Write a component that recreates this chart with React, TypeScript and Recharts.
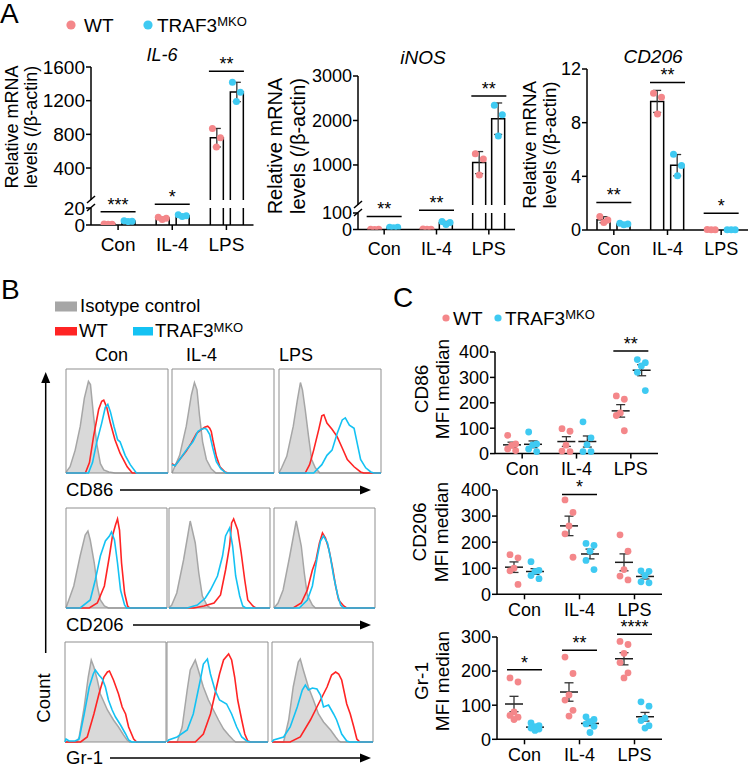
import React from 'react';
import {
  ComposedChart, Bar, Scatter, Line, Area, XAxis, YAxis, ErrorBar, ReferenceDot, ReferenceArea,
} from 'recharts';

const FONT = '"Liberation Sans", Arial, Helvetica, sans-serif';
const WT_DOT = '#f4878a';
const KO_DOT = '#3fcaf2';
const WT_LINE = '#ff2424';
const KO_LINE = '#14c2f3';
const ISO_FILL = '#d9d9d9';
const ISO_LINE = '#a6a6a6';

const groups = ['Con', 'IL-4', 'LPS'];

// ---------- Panel A : relative mRNA, 3 replicates per bar ----------
const il6WT = [[1.1, 1.0, 0.9], [9, 8, 6.5], [870, 760, 650]];
const il6KO = [[5, 4.5, 4], [12, 11, 10], [1420, 1300, 1190]];
const il6Stars = ['***', '*', '**'];
const il6StarsLow = [15.5, 24.5, null];
const il6StarsHigh = [null, null, 1550];
const il6TicksHigh = [400, 800, 1200, 1600];
const il6TicksLow = [0, 20];

const inosWT = [[1.5, 1, 0.5], [2.5, 2, 1.5], [1250, 1135, 775]];
const inosKO = [[14, 13, 10], [48, 42, 31], [2340, 2130, 1650]];
const inosStars = ['**', '**', '**'];
const inosStarsLow = [79, 116, null];
const inosStarsHigh = [null, null, 2550];
const inosTicksHigh = [1000, 2000, 3000];
const inosTicksLow = [0, 100];

const cd206WT = [[1.0, 0.75, 0.55], [10.2, 9.9, 8.65], [0.03, 0.02, 0.02]];
const cd206KO = [[0.5, 0.45, 0.4], [5.64, 4.8, 4.05], [0.02, 0.01, 0.01]];
const cd206Stars = ['**', '**', '*'];
const cd206StarsY = [2.05, 11, 1.25];
const cd206Ticks = [0, 4, 8, 12];

// ---------- Panel C : MFI median, individual mice ----------
const cd86MfiWT = [[72, 38, 32, 18, 12], [98, 88, 33, 10, 8], [227, 214, 160, 150, 90]];
const cd86MfiKO = [[85, 38, 34, 18, 8], [125, 62, 35, 8, 8], [370, 358, 345, 320, 248]];
const cd86MfiStars = ['', '', '**'];
const cd86MfiStarsY = [null, null, 404];

const cd206MfiWT = [[152, 140, 100, 90, 38], [362, 314, 262, 232, 142], [228, 165, 95, 70, 55]];
const cd206MfiKO = [[125, 92, 88, 72, 60], [195, 188, 165, 130, 95], [90, 88, 72, 48, 44]];
const cd206MfiStars = ['', '*', ''];
const cd206MfiStarsY = [null, 383, null];

const gr1MfiWT = [[180, 168, 80, 70, 65, 58], [241, 193, 130, 115, 85, 68], [287, 278, 252, 225, 195, 180]];
const gr1MfiKO = [[48, 40, 37, 33, 30, 26], [66, 58, 52, 45, 38, 20], [110, 97, 62, 55, 40, 33]];
const gr1MfiStars = ['*', '**', '****'];
const gr1MfiStarsY = [204, 261, 308];

const mfiTicks400 = [0, 100, 200, 300, 400];
const mfiTicks300 = [0, 100, 200, 300];

// ---------- Panel B : flow histograms [fluorescence %, count %] ----------
const h86ConIso = [[0, 0], [1, 2], [4, 6], [9, 22], [14, 45], [18, 72], [22, 88], [24, 85], [27, 55], [30, 29], [33.7, 9], [37, 3], [42, 1], [48, 0], [100, 0]];
const h86ConWT = [[0, 0], [19, 0], [23, 10], [27, 35], [32, 61], [35, 69], [37, 70], [40, 63], [43.5, 48], [48, 32], [53, 19], [60, 6], [65, 0], [100, 0]];
const h86ConKO = [[0, 0], [22, 0], [26, 10], [30, 29], [35, 48], [38.5, 63], [41, 66], [43.5, 59], [47, 45], [50.6, 32], [53, 30], [58, 17], [63, 8], [69, 0], [100, 0]];
const h86IL4Iso = [[0, 0], [2.6, 6], [7.5, 17], [14, 45], [19, 75], [22, 87], [24.5, 80], [27, 55], [30, 30], [33.7, 13], [38.5, 4], [43, 0], [100, 0]];
const h86IL4WT = [[0, 9], [3, 7], [7.5, 13], [14, 21], [19, 29], [24, 38], [29, 42], [32, 44], [35, 45], [37, 43], [38.5, 40], [40, 32], [43.5, 16], [47, 6], [52, 1], [55, 0], [100, 0]];
const h86IL4KO = [[0, 8], [3, 7], [7.5, 13], [14, 22], [20.5, 30], [25.5, 40], [29, 42], [32, 43], [34, 42], [37, 37], [40, 24], [43.5, 11], [48, 4], [53, 0], [100, 0]];
const h86LPSIso = [[0, 0], [2.6, 5], [7.6, 16], [14, 45], [18, 70], [21, 87], [23, 80], [25.7, 61], [29, 35], [32, 13], [35.6, 5], [40, 0], [100, 0]];
const h86LPSWT = [[0, 0], [25.7, 0], [30, 8], [34, 22], [39, 42], [42, 55], [44, 56], [47, 48], [52, 42], [57, 35], [62, 24], [67, 13], [73.6, 6], [80, 1], [83, 0], [100, 0]];
const h86LPSKO = [[0, 0], [34, 0], [42, 8], [47, 17], [52, 22], [57, 38], [62, 51], [65, 53], [69, 46], [73.6, 43], [77, 27], [80, 13], [85, 5], [90, 1], [93, 0], [100, 0]];

const h206ConIso = [[0, 0], [1, 3], [7.7, 22], [14, 52], [19, 73], [21.7, 77], [24, 68], [28, 45], [31, 22], [34, 8], [38, 2], [42, 0], [100, 0]];
const h206ConWT = [[0, 0], [23, 0], [31, 5], [38, 22], [43, 52], [46, 72], [49, 83], [51, 89], [53, 78], [55, 45], [58, 15], [61, 2], [63, 0], [100, 0]];
const h206ConKO = [[0, 0], [14, 0], [24, 8], [29, 28], [34, 52], [39, 67], [43, 72], [45, 76], [48, 68], [51, 45], [54, 18], [58, 3], [60, 0], [100, 0]];
const h206IL4Iso = [[0, 0], [2.7, 3], [7.7, 15], [14.4, 48], [19, 75], [21, 87], [26, 65], [29.5, 35], [33, 12], [38, 2], [41, 0], [100, 0]];
const h206IL4WT = [[0, 0], [24.5, 0], [34.6, 2], [44.6, 5], [51, 13], [56, 38], [60, 62], [62, 85], [64, 89], [68, 78], [71.5, 55], [75, 28], [78, 8], [83, 2], [86, 0], [100, 0]];
const h206IL4KO = [[0, 0], [18, 0], [28, 3], [36, 10], [41, 18], [48, 32], [53, 52], [56, 72], [60, 80], [63, 62], [66, 32], [70, 12], [73, 2], [76, 0], [100, 0]];
const h206LPSIso = [[0, 0], [4, 5], [9, 18], [15.6, 52], [22, 87], [27, 62], [30, 35], [33, 13], [38, 3], [41, 0], [100, 0]];
const h206LPSWT = [[0, 0], [19, 0], [27, 5], [33, 18], [38, 38], [41.6, 48], [45, 65], [48, 75], [51, 70], [54.5, 58], [58, 40], [61, 22], [64, 8], [69, 2], [72, 0], [100, 0]];
const h206LPSKO = [[0, 0], [25, 0], [33, 8], [38, 22], [43, 52], [46, 67], [49, 72], [53, 65], [56, 50], [59, 32], [63, 13], [66, 3], [69, 0], [100, 0]];

const hGrConIso = [[0, 0], [12, 0], [14, 5], [19, 35], [23, 65], [26, 82], [28.6, 75], [32, 62], [35, 48], [42, 32], [48, 22], [53, 15], [58, 7], [61.5, 2], [64, 0], [100, 0]];
const hGrConWT = [[0, 0], [15.5, 0], [22, 5], [28.6, 28], [33.6, 48], [38.5, 65], [42, 70], [44, 71], [48, 62], [53, 48], [56.6, 35], [60, 28], [63, 15], [68, 3], [71, 0], [100, 0]];
const hGrConKO = [[0, 0], [1, 3], [4, 1], [10, 1], [14, 3], [19, 28], [24, 55], [28, 68], [30, 72], [33.6, 67], [37, 63], [40, 55], [43, 42], [46.7, 32], [50, 25], [55, 17], [60, 8], [63, 2], [66, 0], [100, 0]];
const hGrIL4Iso = [[0, 0], [10, 0], [15, 15], [20, 52], [23, 72], [28, 82], [31, 72], [36, 55], [41, 42], [46, 32], [51, 22], [56, 13], [61, 7], [65.6, 2], [68, 0], [100, 0]];
const hGrIL4WT = [[0, 0], [28, 0], [36, 8], [43, 28], [47.5, 48], [52, 68], [56, 82], [61, 88], [64, 82], [67, 65], [70, 42], [74, 22], [77, 8], [80, 1], [83, 0], [100, 0]];
const hGrIL4KO = [[0, 0], [1.6, 2], [10, 5], [20, 12], [26, 28], [33, 62], [36, 78], [40, 83], [43, 68], [47.5, 52], [52, 42], [59, 38], [64, 28], [69, 15], [74, 5], [79, 1], [82, 0], [100, 0]];
const hGrLPSIso = [[0, 0], [11.5, 0], [16.5, 22], [21, 55], [26, 80], [28, 83], [31, 72], [36, 55], [41, 42], [46, 28], [51, 20], [58, 12], [63, 5], [66, 1], [68, 0], [100, 0]];
const hGrLPSWT = [[0, 0], [18, 0], [28, 5], [38, 22], [44.5, 35], [49.5, 45], [54.5, 55], [59, 67], [63, 70], [66, 68], [69, 62], [74, 38], [77.5, 28], [81, 15], [84, 3], [87, 0], [100, 0]];
const hGrLPSKO = [[0, 0], [1.6, 2], [11.5, 5], [18, 15], [25, 35], [30, 52], [33, 57], [36, 52], [40, 54], [44.5, 53], [48, 47], [51, 35], [56, 37], [61, 28], [64, 22], [69, 8], [74, 1], [77, 0], [100, 0]];

const histGrid = [
  [[h86ConIso, h86ConWT, h86ConKO], [h86IL4Iso, h86IL4WT, h86IL4KO], [h86LPSIso, h86LPSWT, h86LPSKO]],
  [[h206ConIso, h206ConWT, h206ConKO], [h206IL4Iso, h206IL4WT, h206IL4KO], [h206LPSIso, h206LPSWT, h206LPSKO]],
  [[hGrConIso, hGrConWT, hGrConKO], [hGrIL4Iso, hGrIL4WT, hGrIL4KO], [hGrLPSIso, hGrLPSWT, hGrLPSKO]],
];

// axis ticks of the histogram frames (4 log decades on x, count ticks on y)
const histYTicks = [0, 20, 40, 60, 80, 100];
const histXTicks = [0, 1, 2, 3].flatMap((d) => [1, 2, 3, 4, 5, 6, 7, 8, 9].map((m) => 25 * (d + Math.log10(m)))).concat([100]);

// ---------- helpers ----------
const mean = (a: number[]) => a.reduce((s, v) => s + v, 0) / a.length;
const sdev = (a: number[]) => {
  const m = mean(a);
  return Math.sqrt(a.reduce((s, v) => s + (v - m) * (v - m), 0) / (a.length - 1));
};

function buildTable(wt: number[][], ko: number[][], lo: number, hi: number, mode: string, err: string) {
  return groups.map((cat, i) => {
    const row: any = { cat };
    const put = (k: string, reps: number[]) => {
      const m = mean(reps);
      const s = sdev(reps);
      row[k] = m;
      row[k + 'Err'] = err === 'sd' ? s : s / Math.sqrt(reps.length);
      row[k + 'Show'] = !(mode === 'upper' && m < lo);
      reps.forEach((v, j) => {
        const out = (mode === 'upper' && v < lo) || (mode === 'lower' && v > hi);
        row[k + j] = out ? null : v;
      });
    };
    put('wt', wt[i]);
    put('ko', ko[i]);
    return row;
  });
}

const AX = { stroke: '#000', strokeWidth: 1.5 };

const barShape = (key: string) => (p: any) => {
  if (!p || !p.payload || !p.payload[key + 'Show'] || !(p.height > 0)) return <g />;
  const { x, y, width: w, height: h } = p;
  return (
    <g>
      <rect x={x} y={y} width={w} height={h} fill="#fff" />
      <path d={`M${x},${y + h}V${y}H${x + w}V${y + h}`} fill="none" stroke="#000" strokeWidth={1.5} />
    </g>
  );
};

const meanShape = (p: any) => {
  if (!p || p.y == null || !isFinite(p.y)) return <g />;
  return <line x1={p.x} x2={p.x + p.width} y1={p.y} y2={p.y} stroke="#1a1a1a" strokeWidth={1.5} />;
};

const dotShape = (dx: number, color: string, r: number) => (s: any) => {
  if (!s || s.cx == null || s.cy == null || !isFinite(s.cx) || !isFinite(s.cy)) return <g />;
  return <circle cx={s.cx + dx} cy={s.cy} r={r} fill={color} />;
};

const sigShape = (text: string, half: number, fs: number) => (s: any) => {
  if (!s || !isFinite(s.cx) || !isFinite(s.cy)) return <g />;
  return (
    <g>
      <line x1={s.cx - half} x2={s.cx + half} y1={s.cy} y2={s.cy} stroke="#000" strokeWidth={1.5} />
      <text x={s.cx} y={s.cy - 1} textAnchor="middle" fontSize={fs} fontFamily={FONT} fill="#000">{text}</text>
    </g>
  );
};

const BreakMarks = (props: any) => {
  const vb = props.viewBox;
  if (!vb) return null;
  const ax = vb.x + vb.width;
  const y0 = vb.y;
  const g = props.gap;
  return (
    <g stroke="#000" strokeWidth={1.5}>
      <line x1={ax - 4} y1={y0 + 3} x2={ax + 4} y2={y0 - 4} />
      <line x1={ax - 4} y1={y0 - g + 3} x2={ax + 4} y2={y0 - g - 4} />
    </g>
  );
};

function BarSeg(p: any) {
  const data = buildTable(p.wt, p.ko, p.domain[0], p.domain[1], p.mode, 'sd');
  const half = (p.barSize + p.barGap) / 2;
  const jit = [-4, 4, 0];
  const tickStyle = { fontSize: p.fs, fill: '#000', fontFamily: FONT };
  return (
    <div style={{ position: 'absolute', left: p.x - p.yW, top: p.y - p.mt }}>
      <ComposedChart
        width={p.yW + p.w + 2}
        height={p.mt + p.h + p.xH}
        data={data}
        margin={{ top: p.mt, right: 2, bottom: 0, left: 0 }}
        barSize={p.barSize}
        barGap={p.barGap}
      >
        <XAxis dataKey="cat" hide={p.xH === 0} height={p.xH || 30} interval={0} tickSize={5}
          tickMargin={p.xTickMargin} tick={tickStyle} axisLine={AX} tickLine={AX} />
        <YAxis type="number" width={p.yW} domain={p.domain} ticks={p.ticks} interval={0}
          allowDataOverflow={p.mode !== 'full'} tickSize={5} tickMargin={1} tick={tickStyle}
          axisLine={AX} tickLine={AX}
          label={p.breakGap ? <BreakMarks gap={p.breakGap} /> : undefined} />
        <Bar dataKey="wt" shape={barShape('wt')} isAnimationActive={false}>
          <ErrorBar dataKey="wtErr" width={4} stroke="#333" strokeWidth={1.3} />
        </Bar>
        <Bar dataKey="ko" shape={barShape('ko')} isAnimationActive={false}>
          <ErrorBar dataKey="koErr" width={4} stroke="#333" strokeWidth={1.3} />
        </Bar>
        {[0, 1, 2].map((j) => (
          <Scatter key={'w' + j} dataKey={'wt' + j} isAnimationActive={false} shape={dotShape(-half + jit[j], WT_DOT, 3.5)} />
        ))}
        {[0, 1, 2].map((j) => (
          <Scatter key={'k' + j} dataKey={'ko' + j} isAnimationActive={false} shape={dotShape(half + jit[j], KO_DOT, 3.5)} />
        ))}
        {p.starY.map((v: any, i: number) => (v == null ? null : (
          <ReferenceDot key={'s' + i} x={groups[i]} y={v} ifOverflow="visible" shape={sigShape(p.stars[i], 17.5, 18)} />
        )))}
      </ComposedChart>
    </div>
  );
}

function DotSeg(p: any) {
  const data = buildTable(p.wt, p.ko, p.domain[0], p.domain[1], 'full', 'sem');
  const n = p.wt[0].length;
  const reps = Array.from({ length: n }, (_, j) => j);
  const half = 10.5;
  const jit = [-4, 4, 0, -4, 4, 0];
  const tickStyle = { fontSize: 18, fill: '#000', fontFamily: FONT };
  return (
    <div style={{ position: 'absolute', left: p.x - 60, top: p.y - p.mt }}>
      <ComposedChart
        width={60 + p.w + 2}
        height={p.mt + p.h + 30}
        data={data}
        margin={{ top: p.mt, right: 2, bottom: 0, left: 0 }}
        barSize={18}
        barGap={3}
      >
        <XAxis dataKey="cat" height={30} interval={0} tickSize={5} tickMargin={4} tick={tickStyle} axisLine={AX} tickLine={AX} />
        <YAxis type="number" width={60} domain={p.domain} ticks={p.ticks} interval={0} tickSize={5} tickMargin={1}
          tick={tickStyle} axisLine={AX} tickLine={AX} />
        {reps.map((j) => (
          <Scatter key={'w' + j} dataKey={'wt' + j} isAnimationActive={false} shape={dotShape(-half + jit[j], WT_DOT, 3.4)} />
        ))}
        {reps.map((j) => (
          <Scatter key={'k' + j} dataKey={'ko' + j} isAnimationActive={false} shape={dotShape(half + jit[j], KO_DOT, 3.4)} />
        ))}
        <Bar dataKey="wt" shape={meanShape} isAnimationActive={false}>
          <ErrorBar dataKey="wtErr" width={4.5} stroke="#333" strokeWidth={1.3} />
        </Bar>
        <Bar dataKey="ko" shape={meanShape} isAnimationActive={false}>
          <ErrorBar dataKey="koErr" width={4.5} stroke="#333" strokeWidth={1.3} />
        </Bar>
        {p.starY.map((v: any, i: number) => (v == null ? null : (
          <ReferenceDot key={'s' + i} x={groups[i]} y={v} ifOverflow="visible" shape={sigShape(p.stars[i], 17.5, 18)} />
        )))}
      </ComposedChart>
    </div>
  );
}

const toPts = (a: number[][]) => a.map(([x, y]) => ({ x, y }));
const FRAME = { stroke: '#8f8f8f', strokeWidth: 1 };

function Histo({ x, y, w, h, curves }: any) {
  const [iso, wt, ko] = curves;
  return (
    <div style={{ position: 'absolute', left: x - 4, top: y - 1 }}>
      <ComposedChart width={w + 5} height={h + 5} margin={{ top: 1, right: 1, bottom: 4, left: 4 }}>
        <XAxis type="number" dataKey="x" domain={[0, 100]} ticks={histXTicks} interval={0} height={0}
          tick={false} tickSize={2.5} tickLine={FRAME} axisLine={false} />
        <YAxis type="number" domain={[0, 100]} ticks={histYTicks} interval={0} width={0}
          tick={false} tickSize={2.5} tickLine={FRAME} axisLine={false} />
        <Area data={toPts(iso)} dataKey="y" type="linear" stroke={ISO_LINE} strokeWidth={1.5} fill={ISO_FILL}
          fillOpacity={1} dot={false} activeDot={false} isAnimationActive={false} />
        <Line data={toPts(wt)} dataKey="y" type="linear" stroke={WT_LINE} strokeWidth={1.6} dot={false}
          activeDot={false} isAnimationActive={false} />
        <Line data={toPts(ko)} dataKey="y" type="linear" stroke={KO_LINE} strokeWidth={1.6} dot={false}
          activeDot={false} isAnimationActive={false} />
        <ReferenceArea x1={0} x2={100} y1={0} y2={100} fill="none" stroke="#8f8f8f" strokeWidth={1} ifOverflow="visible" />
      </ComposedChart>
    </div>
  );
}

const histRows = [
  { y: 369, h: 104, xs: [66, 172, 279], w: 102 },
  { y: 508, h: 100, xs: [66, 169, 274], w: 101 },
  { y: 642, h: 100, xs: [65, 167, 272], w: 101 },
];

const Txt = ({ x, cy, fs, center, italic, children }: any) => (
  <div style={{
    position: 'absolute', left: x, top: cy - 0.49 * fs, fontSize: fs, lineHeight: `${fs}px`,
    whiteSpace: 'nowrap', fontStyle: italic ? 'italic' : 'normal',
    transform: center ? 'translateX(-50%)' : undefined,
  }}>{children}</div>
);

const VLabel = ({ cx, cy, fs, lh, lines }: any) => (
  <div style={{
    position: 'absolute', left: cx, top: cy, transform: 'translate(-50%,-50%) rotate(-90deg)',
    fontSize: fs, lineHeight: `${lh}px`, textAlign: 'center', whiteSpace: 'nowrap',
  }}>
    {lines.map((l: string, i: number) => <div key={i}>{l}</div>)}
  </div>
);

const Traf = ({ fs }: any) => (
  <>TRAF3<span style={{ fontSize: Math.round(fs * 0.68), position: 'relative', top: -fs * 0.28 }}>MKO</span></>
);

export default function App() {
  return (
    <div style={{
      position: 'absolute', left: 0, top: 0, width: 750, height: 768, overflow: 'hidden',
      background: '#fff', fontFamily: FONT, color: '#000',
    }}>
      {/* decorations */}
      <svg width={750} height={768} style={{ position: 'absolute', left: 0, top: 0, pointerEvents: 'none' }}>
        <circle cx={71} cy={25} r={4.6} fill={WT_DOT} />
        <circle cx={148} cy={25} r={4.6} fill={KO_DOT} />
        <rect x={55} y={301.5} width={22} height={10} fill={ISO_LINE} />
        <rect x={55} y={327} width={22} height={8.5} fill={WT_LINE} />
        <rect x={133} y={327} width={20} height={8.5} fill={KO_LINE} />
        <circle cx={446} cy={318} r={3.6} fill={WT_DOT} />
        <circle cx={498} cy={318} r={3.6} fill={KO_DOT} />
        <g stroke="#000" strokeWidth={1.5}>
          <line x1={120} y1={490} x2={361} y2={490} />
          <line x1={133} y1={625} x2={361} y2={625} />
          <line x1={110} y1={758} x2={361} y2={758} />
          <line x1={45.7} y1={653} x2={45.7} y2={382} />
        </g>
        <polygon points="371,490 360,485.5 360,494.5" fill="#000" />
        <polygon points="371,625 360,620.5 360,629.5" fill="#000" />
        <polygon points="371,758 360,753.5 360,762.5" fill="#000" />
        <polygon points="45.7,372 41.2,383 50.2,383" fill="#000" />
      </svg>

      {/* ---------- Panel A ---------- */}
      <Txt x={0} cy={14} fs={28}>A</Txt>
      <Txt x={84} cy={25} fs={19}>WT</Txt>
      <Txt x={157} cy={25} fs={19}><Traf fs={19} /></Txt>
      <Txt x={162} cy={55} fs={18} center italic>IL-6</Txt>
      <Txt x={423} cy={57} fs={19} center italic>iNOS</Txt>
      <Txt x={653} cy={56} fs={19} center italic>CD206</Txt>
      <VLabel cx={21.5} cy={126.5} fs={18} lh={19} lines={['Relative mRNA', 'levels (/β-actin)']} />
      <VLabel cx={286} cy={146} fs={20} lh={22.5} lines={['Relative mRNA', 'levels (/β-actin)']} />
      <VLabel cx={540} cy={145} fs={18.7} lh={20} lines={['Relative mRNA', 'levels (/β-actin)']} />

      <BarSeg x={90.5} y={67} w={162.5} h={133} yW={60} mt={15} xH={0} domain={[20, 1600]} ticks={il6TicksHigh}
        wt={il6WT} ko={il6KO} mode="upper" stars={il6Stars} starY={il6StarsHigh} fs={19} barSize={13} barGap={7} />
      <BarSeg x={90.5} y={208} w={162.5} h={17} yW={60} mt={25} xH={30} domain={[0, 20]} ticks={il6TicksLow}
        wt={il6WT} ko={il6KO} mode="lower" stars={il6Stars} starY={il6StarsLow} fs={19} barSize={13} barGap={7}
        xTickMargin={8} breakGap={8} />

      <BarSeg x={358} y={76} w={157} h={129} yW={60} mt={15} xH={0} domain={[100, 3000]} ticks={inosTicksHigh}
        wt={inosWT} ko={inosKO} mode="upper" stars={inosStars} starY={inosStarsHigh} fs={18} barSize={13} barGap={6} />
      <BarSeg x={358} y={213} w={157} h={16.5} yW={60} mt={25} xH={30} domain={[0, 100]} ticks={inosTicksLow}
        wt={inosWT} ko={inosKO} mode="lower" stars={inosStars} starY={inosStarsLow} fs={18} barSize={13} barGap={6}
        xTickMargin={8} breakGap={8} />

      <BarSeg x={587} y={69} w={161} h={161} yW={50} mt={12} xH={30} domain={[0, 12]} ticks={cd206Ticks}
        wt={cd206WT} ko={cd206KO} mode="full" stars={cd206Stars} starY={cd206StarsY} fs={18} barSize={13} barGap={7}
        xTickMargin={7} />

      {/* ---------- Panel B ---------- */}
      <Txt x={1} cy={290} fs={28}>B</Txt>
      <Txt x={80} cy={306} fs={18.5}>Isotype control</Txt>
      <Txt x={79} cy={331} fs={18.5}>WT</Txt>
      <Txt x={155} cy={331} fs={18.5}><Traf fs={18.5} /></Txt>
      <Txt x={95} cy={355} fs={18}>Con</Txt>
      <Txt x={186} cy={355} fs={18}>IL-4</Txt>
      <Txt x={279} cy={355} fs={18}>LPS</Txt>
      <Txt x={66} cy={490} fs={18.5}>CD86</Txt>
      <Txt x={66} cy={625} fs={18.5}>CD206</Txt>
      <Txt x={66} cy={758} fs={18.5}>Gr-1</Txt>
      <VLabel cx={43.5} cy={698} fs={18.5} lh={20} lines={['Count']} />
      {histRows.map((r, ri) => r.xs.map((x, ci) => (
        <Histo key={ri + '-' + ci} x={x} y={r.y} w={r.w} h={r.h} curves={histGrid[ri][ci]} />
      )))}

      {/* ---------- Panel C ---------- */}
      <Txt x={393} cy={297.5} fs={28}>C</Txt>
      <Txt x={453} cy={318} fs={19}>WT</Txt>
      <Txt x={505} cy={318} fs={19}><Traf fs={19} /></Txt>
      <VLabel cx={432.4} cy={388.5} fs={19} lh={21.3} lines={['CD86', 'MFI median']} />
      <VLabel cx={430.8} cy={532} fs={19} lh={21.7} lines={['CD206', 'MFI median']} />
      <VLabel cx={431.5} cy={681} fs={19} lh={21.3} lines={['Gr-1', 'MFI median']} />

      <DotSeg x={495} y={351.7} w={163} h={101.6} mt={25} domain={[0, 400]} ticks={mfiTicks400}
        wt={cd86MfiWT} ko={cd86MfiKO} stars={cd86MfiStars} starY={cd86MfiStarsY} />
      <DotSeg x={496.7} y={490} w={165} h={104.3} mt={20} domain={[0, 400]} ticks={mfiTicks400}
        wt={cd206MfiWT} ko={cd206MfiKO} stars={cd206MfiStars} starY={cd206MfiStarsY} />
      <DotSeg x={496.7} y={636.7} w={165} h={102.3} mt={25} domain={[0, 300]} ticks={mfiTicks300}
        wt={gr1MfiWT} ko={gr1MfiKO} stars={gr1MfiStars} starY={gr1MfiStarsY} />
    </div>
  );
}
